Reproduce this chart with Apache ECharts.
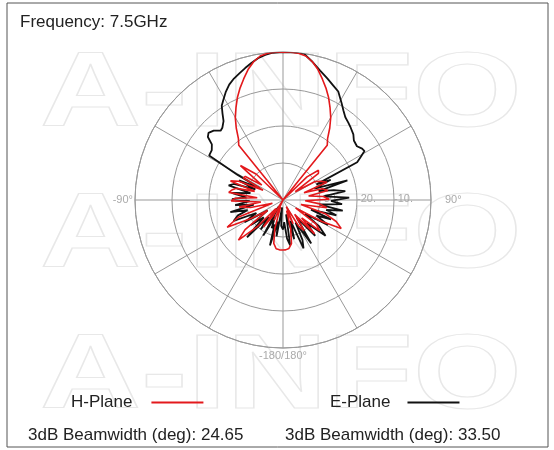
<!DOCTYPE html>
<html>
<head>
    <meta charset="utf-8">
    <title>Frequency 7.5GHz</title>
    <script src="https://cdn.jsdelivr.net/npm/echarts@6/dist/echarts.min.js"></script>
    <style>
        html, body { margin: 0; padding: 0; background: #fff; }
        #chart { width: 554px; height: 450px; }
    </style>
</head>
<body>
<div id="chart"></div>
<script>
    // H-Plane (red) - angle in deg (0 = top, clockwise), gain in dB
    var hPlaneAngle = [-180, -176, -172, -168, -164, -160, -156, -152, -148, -144, -140, -136, -132, -128, -124, -120, -116, -111, -107, -103, -99, -95, -91, -88, -85, -82, -79, -76, -73, -70, -67, -64, -61, -58, -55, -51, -46, -42, -39, -36, -33, -30, -27, -24, -21, -18, -15, -12, -9, -6, -3, 0, 3, 6, 9, 12, 15, 18, 21, 24, 27, 30, 33, 36, 39, 42, 46, 50, 53, 56, 60, 64, 68, 71, 74, 78, 81, 85, 89, 92, 96, 100, 104, 108, 112, 116, 119, 122, 126, 130, 134, 137, 141, 145, 149, 153, 157, 161, 165, 169, 173, 177, 180];
    var hPlaneGain = [-26.5, -26.5, -26.7, -28, -32, -38, -34, -40, -35, -31, -37, -30, -23.8, -27, -35, -30, -23.2, -27, -37, -31, -28, -34, -26, -27, -33, -25.2, -25.9, -27, -32, -24.9, -27, -34, -27.7, -28, -33, -25.2, -30, -40, -21, -19.5, -16.8, -14.2, -12, -9.7, -7.6, -5.6, -3.5, -1.8, -0.6, -0.1, 0, 0, 0, -0.1, -0.6, -1.8, -3.5, -5.6, -7.6, -9.7, -12, -14.2, -16.8, -19.5, -21, -40, -31, -27.5, -28, -36, -30, -28.5, -27.2, -34, -29, -27.6, -33, -29, -27.5, -34, -30, -28, -35, -28, -24.5, -22.5, -28, -36, -29, -27, -33, -27.5, -35, -30, -31.6, -38, -33, -37, -32, -28, -26.8, -26.5, -26.5];

    // E-Plane (black)
    var ePlaneAngle = [-180, -176, -173, -170, -167, -164, -161, -158, -155, -151, -147, -143, -139, -136, -132, -128, -124, -120, -116, -113, -109, -106, -103, -99, -96, -92, -89, -86, -82, -78, -75, -72, -69, -66, -63, -61, -59, -55, -52, -50, -48, -45, -42, -40, -37, -35, -33, -31, -28, -25, -22, -19, -16, -13, -10, -7, -4, 0, 4, 8, 12, 16, 20, 24, 27, 31, 34, 37, 40, 43, 47, 50, 54, 57, 59, 61, 63, 65, 67, 70, 73, 76, 79, 82, 85, 88, 91, 94, 97, 100, 103, 106, 109, 112, 115, 119, 122, 126, 130, 134, 138, 142, 147, 151, 154, 157, 160, 164, 168, 171, 174, 177, 180];
    var ePlaneGain = [-32, -33, -38, -30, -34, -27.2, -33, -31.8, -35, -29, -38, -30, -34, -26, -33, -29, -35, -28, -32, -25.5, -27, -30, -25.4, -32, -27, -31, -26.2, -30, -26, -31, -24.8, -26, -32, -27, -33, -26, -16.7, -16.5, -15.6, -13.5, -12.9, -13.5, -14.8, -14.5, -13.3, -11.5, -9.6, -8.6, -7, -5.6, -4.6, -3.8, -2.9, -2, -1.1, -0.5, -0.1, 0, 0, 0, -1.8, -3.6, -5, -6.3, -7.1, -9.3, -10.8, -12, -12.6, -13.2, -14, -15, -15.3, -14.5, -14.3, -16, -17.5, -30, -26, -31, -21.8, -30, -26, -23, -29, -22.1, -27, -24, -30, -23.6, -28, -25, -32, -26, -30, -26.1, -33, -28, -25, -31, -27, -34, -26, -33, -28, -25.8, -34, -29, -36, -27.6, -29.5, -34, -32];

    var radiusTicks = [-40, -30, -20, -10, 0];
    var angleLabels = { '90': '90°', '-270': '90°', '-90': '-90°', '-180': '-180/180°' };
    var beamwidthH = '24.65';
    var beamwidthE = '33.50';

    var font = 'Liberation Sans, Arial, sans-serif';

    // angle axis runs -270..90 clockwise from 3 o'clock, so 0 sits at the top
    function toPolar(angles, gains) {
        var out = [];
        for (var i = 0; i < angles.length; i++) {
            var a = angles[i] > 90 ? angles[i] - 360 : angles[i];
            out.push([gains[i], a]);
        }
        return out;
    }

    // faint watermark rows
    function watermark(y) {
        return {
            type: 'text', x: 40, y: y, scaleX: 1.32, z: -5, silent: true,
            style: {
                text: 'A-INFO', font: 'bold 106px ' + font, verticalAlign: 'top',
                fill: 'none', stroke: '#e8e8e8', lineWidth: 1.2
            }
        };
    }

    var chart = echarts.init(document.getElementById('chart'));

    var option = {
        animation: false,
        backgroundColor: '#fff',
        title: [
            { text: 'Frequency: 7.5GHz', left: 20, top: 12, padding: 0,
              textStyle: { fontFamily: font, fontSize: 17, fontWeight: 'normal', color: '#222', lineHeight: 20 } },
            { text: '3dB Beamwidth (deg): ' + beamwidthH, left: 28, top: 425, padding: 0,
              textStyle: { fontFamily: font, fontSize: 17, fontWeight: 'normal', color: '#222', lineHeight: 20 } },
            { text: '3dB Beamwidth (deg): ' + beamwidthE, left: 285, top: 425, padding: 0,
              textStyle: { fontFamily: font, fontSize: 17, fontWeight: 'normal', color: '#222', lineHeight: 20 } }
        ],
        legend: [
            { data: ['H-Plane'], left: 71, top: 394, padding: 0, align: 'right', icon: 'rect',
              itemWidth: 52, itemHeight: 2,
              textStyle: { fontFamily: font, fontSize: 17, color: '#222', padding: [0, 14, 0, 0] } },
            { data: ['E-Plane'], left: 330, top: 394, padding: 0, align: 'right', icon: 'rect',
              itemWidth: 52, itemHeight: 2,
              textStyle: { fontFamily: font, fontSize: 17, color: '#222', padding: [0, 12, 0, 0] } }
        ],
        polar: { center: [283, 200], radius: 148 },
        angleAxis: {
            type: 'value',
            min: -270,
            max: 90,
            interval: 30,
            startAngle: 0,
            clockwise: true,
            axisLine: { lineStyle: { color: '#999', width: 1 } },
            axisTick: { show: false },
            splitLine: { show: true, lineStyle: { color: '#999', width: 1 } },
            axisLabel: {
                margin: 2,
                fontFamily: font,
                fontSize: 11,
                color: '#aaa',
                formatter: function (v) {
                    var s = angleLabels[String(v)] || '';
                    return s === '90°' ? '{r|' + s + '}' : s;
                },
                rich: { r: { padding: [0, 0, 0, 12], fontSize: 11, color: '#aaa', fontFamily: font } }
            }
        },
        radiusAxis: {
            type: 'value',
            min: radiusTicks[0],
            max: radiusTicks[radiusTicks.length - 1],
            interval: 10,
            axisLine: { show: false },
            axisTick: { show: false },
            splitLine: { show: true, lineStyle: { color: '#999', width: 1 } },
            axisLabel: {
                margin: 1,
                align: 'left',
                verticalAlign: 'middle',
                fontFamily: font,
                fontSize: 11,
                color: '#aaa',
                formatter: function (v) {
                    return (v === radiusTicks[0] || v === 0) ? '' : v + '.';
                }
            }
        },
        graphic: [
            { type: 'rect', shape: { x: 7, y: 3, width: 541, height: 444 }, z: -10,
              style: { fill: 'none', stroke: '#555', lineWidth: 1 } },
            watermark(44),
            watermark(185),
            watermark(326)
        ],
        series: [
            {
                name: 'E-Plane',
                type: 'line',
                coordinateSystem: 'polar',
                showSymbol: false,
                lineStyle: { color: '#111', width: 1.8 },
                itemStyle: { color: '#111' },
                data: toPolar(ePlaneAngle, ePlaneGain)
            },
            {
                name: 'H-Plane',
                type: 'line',
                coordinateSystem: 'polar',
                showSymbol: false,
                lineStyle: { color: '#e3191c', width: 1.6 },
                itemStyle: { color: '#e3191c' },
                data: toPolar(hPlaneAngle, hPlaneGain)
            }
        ]
    };

    chart.setOption(option);
</script>
</body>
</html>
